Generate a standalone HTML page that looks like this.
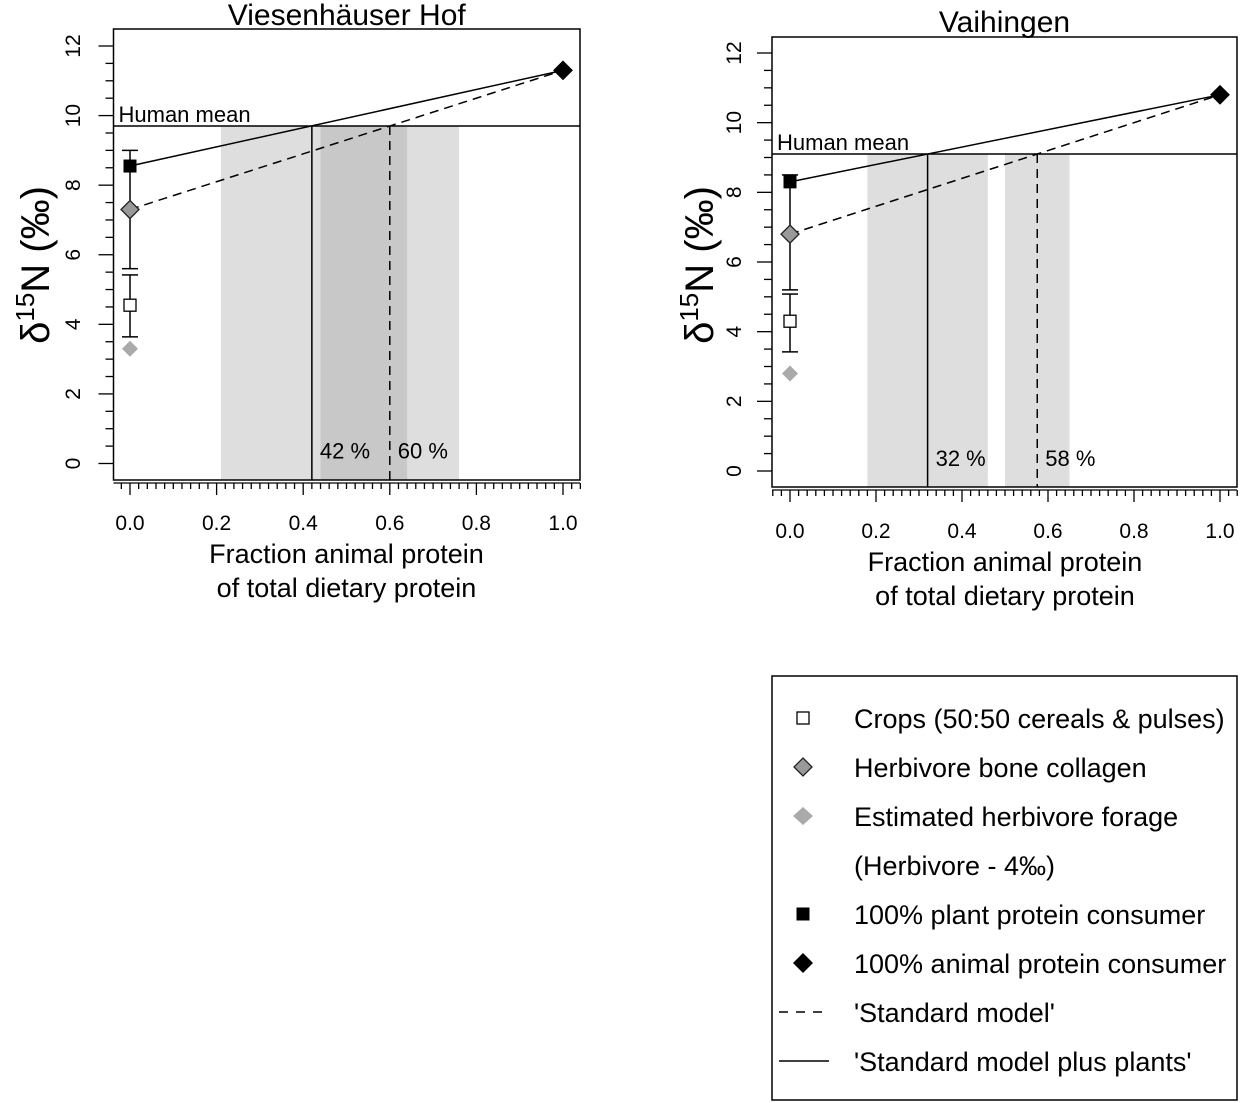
<!DOCTYPE html>
<html><head><meta charset="utf-8">
<style>
html,body{margin:0;padding:0;background:#fff;}
svg{display:block;font-family:"Liberation Sans",sans-serif;}
</style></head>
<body>
<svg id="chart" width="1240" height="1103" viewBox="0 0 1240 1103" xmlns="http://www.w3.org/2000/svg"></svg>
<script>
// ---- Data ----
const panelTitles = ["Viesenhäuser Hof", "Vaihingen"];
const humanMean = [9.7, 9.1];
const plantConsumer = [8.55, 8.3];
const plantErrTop = [9.0, 8.5];
const plantErrBottom = [5.6, 5.2];
const herbivore = [7.3, 6.8];
const crops = [4.55, 4.3];
const cropsErrTop = [5.42, 5.08];
const cropsErrBottom = [3.64, 3.42];
const forage = [3.3, 2.8];
const animalConsumer = [11.3, 10.8];
const solidFraction = [0.42, 0.32];
const dashedFraction = [0.60, 0.575];
const solidLabels = ["42 %", "32 %"];
const dashedLabels = ["60 %", "58 %"];
const bandsLeft = [[0.21, 0.64], [0.44, 0.76]];
const bandsRight = [[0.18, 0.46], [0.50, 0.65]];
const yTicks = [0, 2, 4, 6, 8, 10, 12];
const xTicks = [0, 0.2, 0.4, 0.6, 0.8, 1.0];
const xTickLabels = ["0.0", "0.2", "0.4", "0.6", "0.8", "1.0"];
const legendLabels = ["Crops (50:50 cereals & pulses)", "Herbivore bone collagen", "Estimated herbivore forage", "(Herbivore - 4‰)", "100% plant protein consumer", "100% animal protein consumer", "'Standard model'", "'Standard model plus plants'"];

const NS = "http://www.w3.org/2000/svg";
const svg = document.getElementById('chart');
function mk(tag, attrs, parent, text) {
  const e = document.createElementNS(NS, tag);
  for (const k in attrs) e.setAttribute(k, attrs[k]);
  if (text !== undefined) e.textContent = text;
  (parent || svg).appendChild(e);
  return e;
}

const layouts = [
  {bx0: 113.5, bx1: 580, by0: 29, by1: 480, x0: 130, x1: 563, yz: 463.5, yt: 46, axisY: 483, tickLabY: 530, t1: 563, t2: 597, titleY: 25, ylabX: 73, ytitleX: 36, bands: bandsLeft},
  {bx0: 772, bx1: 1237, by0: 37, by1: 487, x0: 790, x1: 1220, yz: 471, yt: 53, axisY: 490, tickLabY: 538, t1: 571, t2: 605, titleY: 32, ylabX: 734, ytitleX: 700, bands: bandsRight}
];

layouts.forEach((L, p) => {
  const g = mk('g', {}, svg);
  
  
  const X = v => L.x0 + v * (L.x1 - L.x0);
  const Y = v => L.yz + v * (L.yt - L.yz) / 12;
  const hm = Y(humanMean[p]);
  L.bands.forEach((b, i) => {
    const r = mk('rect', {x: X(b[0]), y: hm, width: X(b[1]) - X(b[0]), height: L.by1 - hm, fill: '#a0a0a0', 'fill-opacity': 0.35}, g);
    
    
  });
  const t = mk('text', {x: (L.bx0 + L.bx1) / 2, y: L.titleY, 'text-anchor': 'middle', 'font-size': 30}, g, panelTitles[p]);
  
  
  const box = mk('rect', {x: L.bx0, y: L.by0, width: L.bx1 - L.bx0, height: L.by1 - L.by0, fill: 'none', stroke: '#000', 'stroke-width': 1.5}, g);
  
  
  const hl = mk('line', {x1: L.bx0, x2: L.bx1, y1: hm, y2: hm, stroke: '#000', 'stroke-width': 1.5}, g);
  
  
  const ht = mk('text', {x: L.bx0 + 5, y: hm - 4, 'font-size': 22}, g, 'Human mean');
  
  
  for (let v = 0; v <= 12.01; v += 0.5) {
    const major = Math.abs(v - Math.round(v / 2) * 2) < 0.01;
    mk('line', {x1: L.bx0, x2: L.bx0 - (major ? 15 : 8), y1: Y(v), y2: Y(v), stroke: '#000', 'stroke-width': 1.3}, g);
  }
  yTicks.forEach(v => {
    const tl = mk('text', {x: L.ylabX, y: Y(v), 'text-anchor': 'middle', 'font-size': 21, transform: `rotate(-90 ${L.ylabX} ${Y(v)})`, dy: 7}, g, String(v));
    
    
  });
  const yt = mk('text', {x: L.ytitleX, y: 265, 'text-anchor': 'middle', 'font-size': 40, transform: `rotate(-90 ${L.ytitleX} 265)`, dy: 13}, g);
  
  
  mk('tspan', {}, yt, 'δ');
  mk('tspan', {'font-size': 26, dy: -15}, yt, '15');
  mk('tspan', {dy: 15}, yt, 'N (‰)');
  const ax = mk('line', {x1: L.bx0, x2: L.bx1, y1: L.axisY, y2: L.axisY, stroke: '#000', 'stroke-width': 1.3}, g);
  
  
  for (let i = -3; i <= 53; i++) {
    const xv = X(i * 0.02);
    if (xv < L.bx0 - 0.5 || xv > L.bx1 + 0.5) continue;
    const major = i % 10 === 0;
    mk('line', {x1: xv, x2: xv, y1: L.axisY, y2: L.axisY + (major ? 12 : 6), stroke: '#000', 'stroke-width': 1.3}, g);
  }
  xTicks.forEach((v, i) => {
    const tl = mk('text', {x: X(v), y: L.tickLabY, 'text-anchor': 'middle', 'font-size': 21}, g, xTickLabels[i]);
    
    
  });
  const xt1 = mk('text', {x: X(0.5), y: L.t1, 'text-anchor': 'middle', 'font-size': 27}, g, 'Fraction animal protein');
  
  
  const xt2 = mk('text', {x: X(0.5), y: L.t2, 'text-anchor': 'middle', 'font-size': 27}, g, 'of total dietary protein');
  
  
  const vs = mk('line', {x1: X(solidFraction[p]), x2: X(solidFraction[p]), y1: hm, y2: L.by1, stroke: '#000', 'stroke-width': 1.5}, g);
  
  
  const vd = mk('line', {x1: X(dashedFraction[p]), x2: X(dashedFraction[p]), y1: hm, y2: L.by1, stroke: '#000', 'stroke-width': 1.5, 'stroke-dasharray': '9 6'}, g);
  
  
  const sl = mk('text', {x: X(solidFraction[p]) + 8, y: Y(0.15), 'font-size': 22}, g, solidLabels[p]);
  
  
  const dl = mk('text', {x: X(dashedFraction[p]) + 8, y: Y(0.15), 'font-size': 22}, g, dashedLabels[p]);
  
  
  const ml1 = mk('line', {x1: X(0), y1: Y(plantConsumer[p]), x2: X(1), y2: Y(animalConsumer[p]), stroke: '#000', 'stroke-width': 1.5}, g);
  
  
  const ml2 = mk('line', {x1: X(0), y1: Y(herbivore[p]), x2: X(1), y2: Y(animalConsumer[p]), stroke: '#000', 'stroke-width': 1.5, 'stroke-dasharray': '9 6'}, g);
  
  
  [[plantErrTop[p], plantErrBottom[p]], [cropsErrTop[p], cropsErrBottom[p]]].forEach(e => {
    const eb = mk('g', {}, g);
    
    
    mk('line', {x1: X(0), x2: X(0), y1: Y(e[0]), y2: Y(e[1]), stroke: '#000', 'stroke-width': 1.5}, eb);
    mk('line', {x1: X(0) - 8, x2: X(0) + 8, y1: Y(e[0]), y2: Y(e[0]), stroke: '#000', 'stroke-width': 1.5}, eb);
    mk('line', {x1: X(0) - 8, x2: X(0) + 8, y1: Y(e[1]), y2: Y(e[1]), stroke: '#000', 'stroke-width': 1.5}, eb);
  });
  const diamond = (cx, cy, r, fill, stroke, name) => {
    const d = mk('polygon', {points: `${cx},${cy - r} ${cx + r},${cy} ${cx},${cy + r} ${cx - r},${cy}`, fill: fill, stroke: stroke, 'stroke-width': 1.3}, g);
    
    
  };
  diamond(X(0), Y(forage[p]), 8, '#aaa', 'none', 'forage-point');
  diamond(X(0), Y(herbivore[p]), 9, '#999', '#222', 'herbivore-point');
  diamond(X(1), Y(animalConsumer[p]), 9, '#000', '#000', 'animal-consumer-point');
  const cr = mk('rect', {x: X(0) - 6, y: Y(crops[p]) - 6, width: 12, height: 12, fill: '#fff', stroke: '#000', 'stroke-width': 1.3}, g);
  
  
  const pc = mk('rect', {x: X(0) - 6.5, y: Y(plantConsumer[p]) - 6.5, width: 13, height: 13, fill: '#000'}, g);
  
  
});

const lg = mk('g', {}, svg);


mk('rect', {x: 772, y: 676, width: 465, height: 424, fill: '#fff', stroke: '#000', 'stroke-width': 1.5}, lg);
legendLabels.forEach((lab, i) => {
  const cy = 718 + i * 49;
  const cx = 803;
  const e = mk('g', {}, lg);
  
  
  if (i === 0) mk('rect', {x: cx - 6, y: cy - 6, width: 12, height: 12, fill: '#fff', stroke: '#000', 'stroke-width': 1.3}, e);
  if (i === 1) mk('polygon', {points: `${cx},${cy - 9} ${cx + 9},${cy} ${cx},${cy + 9} ${cx - 9},${cy}`, fill: '#999', stroke: '#222', 'stroke-width': 1.3}, e);
  if (i === 2) mk('polygon', {points: `${cx},${cy - 9} ${cx + 10},${cy} ${cx},${cy + 9} ${cx - 10},${cy}`, fill: '#aaa'}, e);
  if (i === 4) mk('rect', {x: cx - 6.5, y: cy - 6.5, width: 13, height: 13, fill: '#000'}, e);
  if (i === 5) mk('polygon', {points: `${cx},${cy - 10} ${cx + 10},${cy} ${cx},${cy + 10} ${cx - 10},${cy}`, fill: '#000'}, e);
  if (i === 6) mk('line', {x1: 779, x2: 829, y1: cy, y2: cy, stroke: '#000', 'stroke-width': 1.5, 'stroke-dasharray': '9 8'}, e);
  if (i === 7) mk('line', {x1: 779, x2: 829, y1: cy, y2: cy, stroke: '#000', 'stroke-width': 1.5}, e);
  mk('text', {x: 854, y: cy + 10, 'font-size': 27}, e, lab);
});
</script>
</body></html>
